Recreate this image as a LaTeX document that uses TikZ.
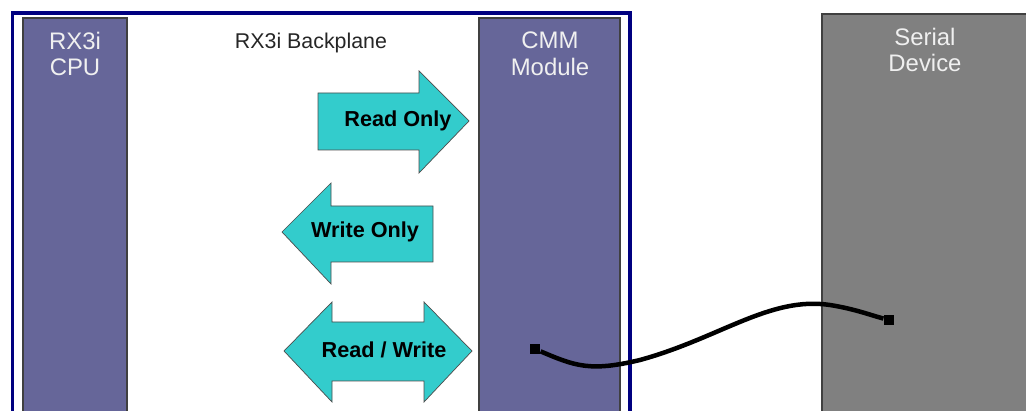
\documentclass[tikz,border=0pt]{standalone}
\usepackage{fontspec}
\setmainfont{Liberation Sans}
\definecolor{modfill}{HTML}{666699}
\definecolor{arrowfill}{HTML}{33CCCC}
\definecolor{devfill}{HTML}{808080}
\definecolor{planeblue}{HTML}{000080}
\tikzset{
  modbox/.style={draw=black!75, fill=modfill, line width=0.8pt},
  devbox/.style={draw=black!75, fill=devfill, line width=0.8pt},
  boxlabel/.style={text=white!94!black, font=\fontsize{17}{18.6}\selectfont,
    align=center, anchor=north, inner sep=0pt},
  flowarrow/.style={draw=black!70, fill=arrowfill, line width=0.5pt},
  arrowlabel/.style={font=\bfseries\fontsize{15.4}{17}\selectfont, inner sep=0pt},
  plug/.style={fill=black, minimum size=7.5pt, inner sep=0pt}
}
\begin{document}
\begin{tikzpicture}[x=0.025cm, y=-0.025cm]
  \useasboundingbox (0, 0) rectangle (1026, 411);

  % backplane frame
  \draw[planeblue, line width=2.8pt] (12.5, 430) -- (12.5, 13) -- (630, 13) -- (630, 430);
  \node[inner sep=0pt, text=black!85, font=\fontsize{15.2}{17}\selectfont] (plane) at (311, 43) {RX3i Backplane};

  % modules
  \draw[modbox] (23, 18) rectangle (127, 430);
  \draw[modbox] (479, 18) rectangle (620, 430);
  \draw[devbox] (822, 14) rectangle (1040, 430);

  \node[boxlabel] (cpu) at (75, 32) {RX3i\\CPU};
  \node[boxlabel] (cmm) at (550, 32) {CMM\\Module};
  \node[boxlabel] (dev) at (925, 28) {Serial\\Device};

  % read only
  \draw[flowarrow] (318, 93) -- (419, 93) -- (419, 71) -- (469, 121)
    -- (419, 173) -- (419, 150) -- (318, 150) -- cycle;
  \node[arrowlabel] (ro) at (398, 121) {Read Only};

  % write only
  \draw[flowarrow] (433, 206) -- (331, 206) -- (331, 183) -- (282, 232)
    -- (331, 284) -- (331, 262) -- (433, 262) -- cycle;
  \node[arrowlabel] (wo) at (365, 232) {Write Only};

  % read / write
  \draw[flowarrow] (332, 322) -- (424, 322) -- (424, 302) -- (472, 351)
    -- (424, 402) -- (424, 381) -- (332, 381) -- (332, 402) -- (284, 351)
    -- (332, 302) -- cycle;
  \node[arrowlabel] (rw) at (384, 350) {Read / Write};

  % cable
  \node[plug] (p1) at (535, 349) {};
  \node[plug] (p2) at (889, 320) {};
  \draw[line width=3.2pt] (p1) .. controls (575, 366) and (590, 372) .. (640, 360)
    .. controls (720, 338) and (770, 296) .. (830, 305)
    .. controls (855, 309) and (870, 315) .. (p2);
\end{tikzpicture}
\end{document}
